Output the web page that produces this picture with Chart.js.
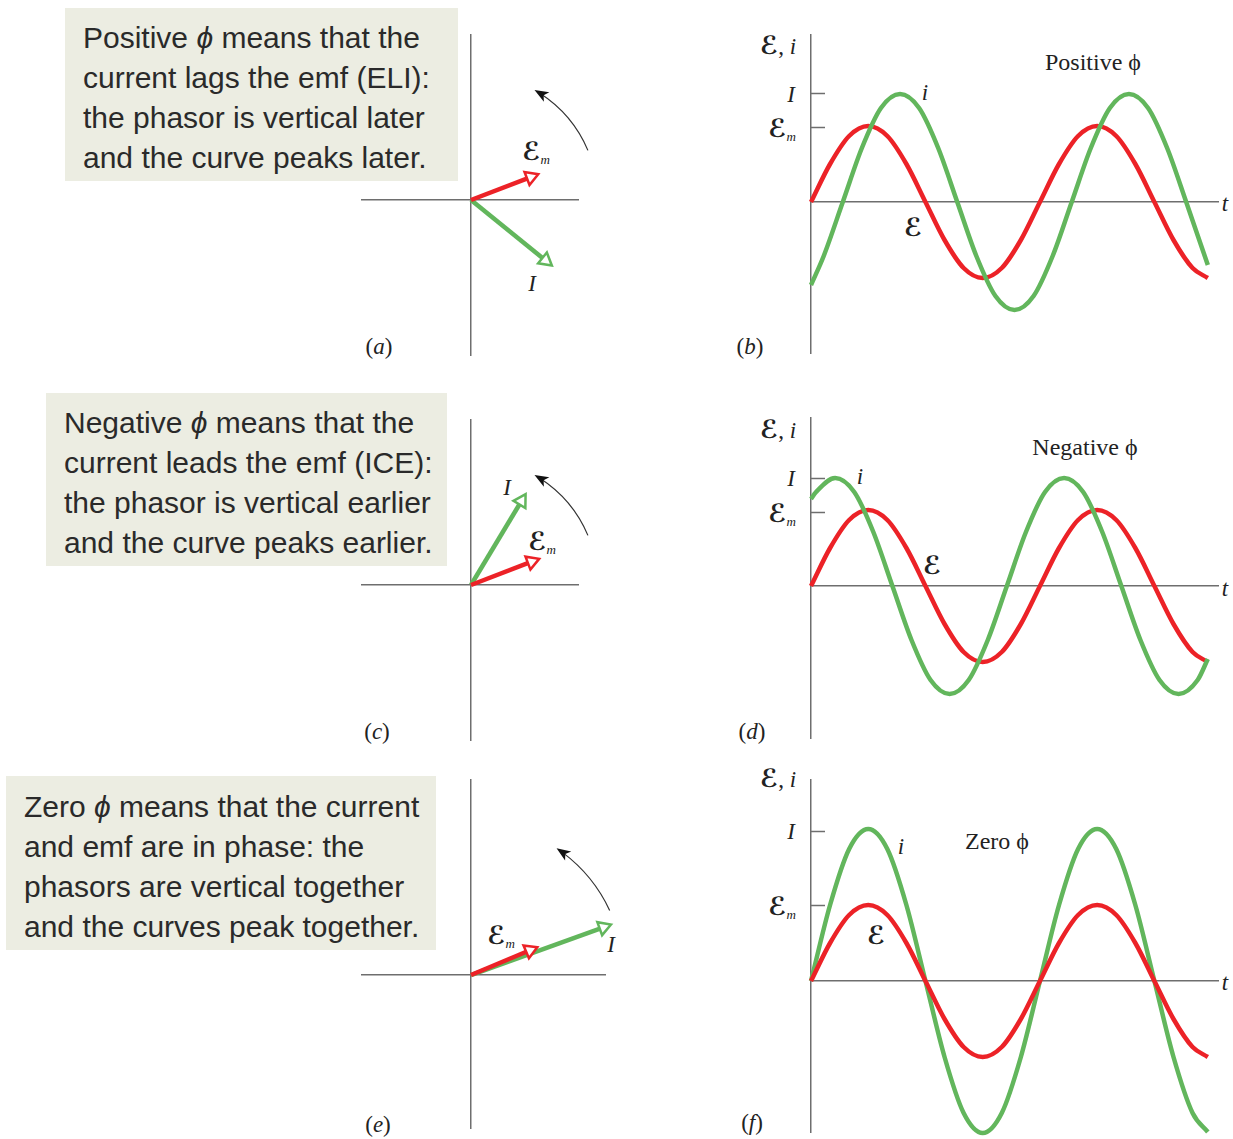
<!DOCTYPE html>
<html>
<head>
<meta charset="utf-8">
<script src="https://cdn.jsdelivr.net/npm/chart.js@4.4.0/dist/chart.umd.min.js"></script>
<style>
  body { margin: 0; background: #fff; width: 1233px; height: 1139px; position: relative; overflow: hidden; }
  canvas { position: absolute; }
  .box { position: absolute; background: #ecede2; color: #2a2a2a; font-family: "Liberation Sans", Arial, sans-serif;
         font-size: 30px; line-height: 40px; white-space: nowrap; box-sizing: border-box; }
  .lbl { position: absolute; transform: translate(-50%, -50%); white-space: nowrap; color: #222;
         font-family: "Liberation Serif", serif; font-size: 23px; line-height: 1; }
  .big { font-size: 24px; }
  .scr { font-family: "DejaVu Sans", serif; font-style: normal; font-weight: bold; font-size: 25px; }
  sub { font-size: 13px; font-style: italic; font-family: "Liberation Serif", serif; vertical-align: -4px; }
</style>
</head>
<body>

<div class="box" style="left:65px;top:8px;width:393px;height:173px;padding:10px 0 0 18px;">
Positive <i>ϕ</i> means that the<br>current lags the emf (ELI):<br>the phasor is vertical later<br>and the curve peaks later.</div>
<div class="box" style="left:46px;top:393px;width:401px;height:173px;padding:10px 0 0 18px;">
Negative <i>ϕ</i> means that the<br>current leads the emf (ICE):<br>the phasor is vertical earlier<br>and the curve peaks earlier.</div>
<div class="box" style="left:6px;top:776px;width:430px;height:174px;padding:11px 0 0 18px;">
Zero <i>ϕ</i> means that the current<br>and emf are in phase: the<br>phasors are vertical together<br>and the curves peak together.</div>

<!-- phasor labels -->
<div class="lbl" style="left:536px;top:152px;"><span class="scr">ℰ</span><sub>m</sub></div>
<div class="lbl" style="left:532px;top:283px;"><i>I</i></div>
<div class="lbl" style="left:379px;top:346px;">(<i>a</i>)</div>
<div class="lbl" style="left:507px;top:487px;"><i>I</i></div>
<div class="lbl" style="left:542px;top:542px;"><span class="scr">ℰ</span><sub>m</sub></div>
<div class="lbl" style="left:377px;top:731px;">(<i>c</i>)</div>
<div class="lbl" style="left:501px;top:936px;"><span class="scr">ℰ</span><sub>m</sub></div>
<div class="lbl" style="left:611px;top:944px;"><i>I</i></div>
<div class="lbl" style="left:378px;top:1124px;">(<i>e</i>)</div>

<!-- curve panel labels -->
<div class="lbl" style="left:778px;top:45px;"><span class="scr">ℰ</span>, <i>i</i></div>
<div class="lbl" style="left:791px;top:94px;"><i>I</i></div>
<div class="lbl" style="left:782px;top:129px;"><span class="scr">ℰ</span><sub>m</sub></div>
<div class="lbl" style="left:925px;top:92px;"><i>i</i></div>
<div class="lbl" style="left:913px;top:227px;"><span class="scr">ℰ</span></div>
<div class="lbl big" style="left:1093px;top:62px;">Positive ϕ</div>
<div class="lbl" style="left:1225px;top:203px;"><i>t</i></div>
<div class="lbl" style="left:750px;top:346px;">(<i>b</i>)</div>

<div class="lbl" style="left:778px;top:429px;"><span class="scr">ℰ</span>, <i>i</i></div>
<div class="lbl" style="left:791px;top:478px;"><i>I</i></div>
<div class="lbl" style="left:782px;top:514px;"><span class="scr">ℰ</span><sub>m</sub></div>
<div class="lbl" style="left:860px;top:476px;"><i>i</i></div>
<div class="lbl" style="left:932px;top:565px;"><span class="scr">ℰ</span></div>
<div class="lbl big" style="left:1085px;top:447px;">Negative ϕ</div>
<div class="lbl" style="left:1225px;top:588px;"><i>t</i></div>
<div class="lbl" style="left:752px;top:731px;">(<i>d</i>)</div>

<div class="lbl" style="left:778px;top:778px;"><span class="scr">ℰ</span>, <i>i</i></div>
<div class="lbl" style="left:791px;top:831px;"><i>I</i></div>
<div class="lbl" style="left:782px;top:907px;"><span class="scr">ℰ</span><sub>m</sub></div>
<div class="lbl" style="left:901px;top:846px;"><i>i</i></div>
<div class="lbl" style="left:876px;top:935px;"><span class="scr">ℰ</span></div>
<div class="lbl big" style="left:997px;top:841px;">Zero ϕ</div>
<div class="lbl" style="left:1225px;top:982px;"><i>t</i></div>
<div class="lbl" style="left:752px;top:1122px;">(<i>f</i>)</div>

<script>
// ---- phasor diagrams (a), (c), (e) ----
var emfAngle  = [21, 21, 23];      // degrees from +x axis
var emfLength = [64, 65, 64];
var curAngle  = [-39, 59, 20];
var curLength = [96, 98, 141];
var arcRadius = [127, 127, 153];   // rotation arrow
var arcStart  = [23, 23, 25];
var arcEnd    = [60, 60, 56];

// ---- curves (b), (d), (f): t in degrees of wt ----
var tEmf = [0, 30, 60, 90, 120, 150, 180, 210, 240, 270, 300, 330, 360, 390, 420, 450, 480, 510, 540, 570, 600, 624];
var emfB = [0, 38, 66, 76, 66, 38, 0, -38, -66, -76, -66, -38, 0, 38, 66, 76, 66, 38, 0, -38, -66, -76];
var emfD = [0, 38, 66, 76, 66, 38, 0, -38, -66, -76, -66, -38, 0, 38, 66, 76, 66, 38, 0, -38, -66, -76];
var emfF = [0, 38, 66, 76, 66, 38, 0, -38, -66, -76, -66, -38, 0, 38, 66, 76, 66, 38, 0, -38, -66, -76];

var tCurB = [0, 20, 50, 80, 110, 140, 170, 200, 230, 260, 290, 320, 350, 380, 410, 440, 470, 500, 530, 560, 590, 624];
var curB  = [-83, -54, 0, 54, 94, 108, 94, 54, 0, -54, -94, -108, -94, -54, 0, 54, 94, 108, 94, 54, 0, -63];
var tCurD = [0, 8, 38, 68, 98, 128, 158, 188, 218, 248, 278, 308, 338, 368, 398, 428, 458, 488, 518, 548, 578, 608, 624];
var curD  = [87, 94, 108, 94, 54, 0, -54, -94, -108, -94, -54, 0, 54, 94, 108, 94, 54, 0, -54, -94, -108, -94, -73];
var curF  = [0, 76, 132, 152, 132, 76, 0, -76, -132, -152, -132, -76, 0, 76, 132, 152, 132, 76, 0, -76, -132, -151];

var tickI  = [109, 108, 150];
var tickEm = [75, 74, 76];

var RED = '#ec2227';
var GREEN = '#62b65c';
var AXIS = '#6e6e6e';

function makeCanvas(left, top, w, h) {
  var c = document.createElement('canvas');
  c.width = w; c.height = h;
  c.style.left = left + 'px'; c.style.top = top + 'px';
  c.style.width = w + 'px'; c.style.height = h + 'px';
  document.body.appendChild(c);
  return c;
}

function pairs(xs, ys) {
  return xs.map(function (x, i) { return { x: x, y: ys[i] }; });
}

function axisScales(xmin, xmax, ymin, ymax) {
  var common = {
    type: 'linear',
    grid: { drawOnChartArea: false, drawTicks: false },
    ticks: { display: false },
    border: { display: true, color: AXIS, width: 1.5 }
  };
  return {
    x: Object.assign({}, common, { min: xmin, max: xmax, position: { y: 0 } }),
    y: Object.assign({}, common, { min: ymin, max: ymax, position: { x: 0 } })
  };
}

function phasorSet(angle, len, color) {
  var a = angle * Math.PI / 180;
  return {
    data: [{ x: 0, y: 0 }, { x: len * Math.cos(a), y: len * Math.sin(a) }],
    borderColor: color,
    borderWidth: 4.5,
    pointStyle: 'triangle',
    pointRadius: [0, 8],
    pointRotation: [0, 90 - angle],
    pointBackgroundColor: '#fff',
    pointBorderColor: color,
    pointBorderWidth: 2.5,
    clip: false
  };
}

function phasorChart(k, box, pad, range) {
  var canvas = makeCanvas(box[0], box[1], box[2], box[3]);
  var arcPlugin = {
    id: 'rotationArc',
    afterDatasetsDraw: function (chart) {
      var ctx = chart.ctx;
      var cx = chart.scales.x.getPixelForValue(0);
      var cy = chart.scales.y.getPixelForValue(0);
      var r = chart.scales.x.getPixelForValue(arcRadius[k]) - cx;
      var a0 = arcStart[k] * Math.PI / 180, a1 = arcEnd[k] * Math.PI / 180;
      ctx.save();
      ctx.strokeStyle = '#333';
      ctx.lineWidth = 1.2;
      ctx.beginPath();
      ctx.arc(cx, cy, r, -a0, -(a1 - 0.05), true);
      ctx.stroke();
      var tx = cx + r * Math.cos(a1), ty = cy - r * Math.sin(a1);
      var dx = -Math.sin(a1), dy = -Math.cos(a1);
      var L = 14, W = 5.5;
      ctx.fillStyle = '#111';
      ctx.beginPath();
      ctx.moveTo(tx, ty);
      ctx.lineTo(tx - dx * L - dy * W, ty - dy * L + dx * W);
      ctx.lineTo(tx - dx * L * 0.75, ty - dy * L * 0.75);
      ctx.lineTo(tx - dx * L + dy * W, ty - dy * L - dx * W);
      ctx.closePath();
      ctx.fill();
      ctx.restore();
    }
  };
  return new Chart(canvas, {
    type: 'line',
    data: { datasets: [phasorSet(emfAngle[k], emfLength[k], RED), phasorSet(curAngle[k], curLength[k], GREEN)] },
    options: {
      responsive: false, animation: false, events: [], devicePixelRatio: 1,
      layout: { padding: { left: pad[0], top: pad[1], right: pad[2], bottom: pad[3] } },
      plugins: { legend: { display: false }, tooltip: { enabled: false } },
      scales: axisScales(range[0], range[1], range[2], range[3])
    },
    plugins: [arcPlugin]
  });
}

function curveChart(k, box, pad, range, tCur, cur, emf, redOnTop) {
  var canvas = makeCanvas(box[0], box[1], box[2], box[3]);
  var tickPlugin = {
    id: 'axisTicks',
    afterDraw: function (chart) {
      var ctx = chart.ctx;
      var x0 = chart.scales.x.getPixelForValue(0);
      ctx.save();
      ctx.strokeStyle = AXIS;
      ctx.lineWidth = 1.5;
      [tickI[k], tickEm[k]].forEach(function (v) {
        var y = Math.round(chart.scales.y.getPixelForValue(v)) + 0.5;
        ctx.beginPath();
        ctx.moveTo(x0, y);
        ctx.lineTo(x0 + 14, y);
        ctx.stroke();
      });
      ctx.restore();
    }
  };
  var line = function (data, color) {
    return { data: data, borderColor: color, borderWidth: 4.5, pointRadius: 0,
             cubicInterpolationMode: 'monotone', clip: false };
  };
  var green = line(pairs(tCur, cur), GREEN);
  var red = line(pairs(tEmf, emf), RED);
  return new Chart(canvas, {
    type: 'line',
    data: { datasets: redOnTop ? [red, green] : [green, red] },
    options: {
      responsive: false, animation: false, events: [], devicePixelRatio: 1,
      layout: { padding: { left: pad[0], top: pad[1], right: pad[2], bottom: pad[3] } },
      plugins: { legend: { display: false }, tooltip: { enabled: false } },
      scales: axisScales(range[0], range[1], range[2], range[3])
    },
    plugins: [tickPlugin]
  });
}

phasorChart(0, [340, 20, 280, 350], [22, 15, 42, 15], [-109, 107, -155, 165]);
phasorChart(1, [340, 405, 280, 350], [22, 15, 42, 15], [-109, 107, -155, 165]);
phasorChart(2, [340, 765, 300, 374], [22, 15, 35, 7], [-109, 134, -155, 197]);

curveChart(0, [800, 25, 433, 340], [11, 10, 15, 12], [0, 640, -151, 167], tCurB, curB, emfB, false);
curveChart(1, [800, 408, 433, 340], [11, 10, 15, 10], [0, 640, -152, 168], tCurD, curD, emfD, false);
curveChart(2, [800, 770, 433, 369], [11, 10, 15, 7], [0, 640, -151, 201], tEmf, curF, emfF, true);
</script>
</body>
</html>
